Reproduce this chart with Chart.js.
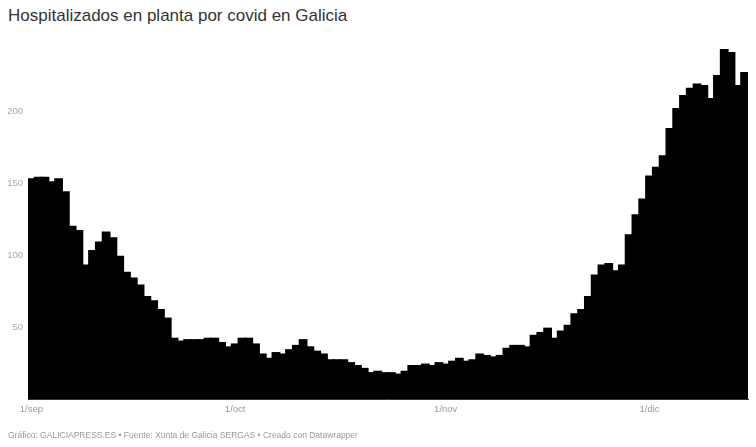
<!DOCTYPE html>
<html>
<head>
<meta charset="utf-8">
<script src="https://cdn.jsdelivr.net/npm/chart.js@4.4.1/dist/chart.umd.min.js"></script>
<style>
  html, body { margin: 0; padding: 0; background: #fff; }
  body { width: 756px; height: 447px; position: relative; overflow: hidden; font-family: "Liberation Sans", Arial, sans-serif; }
  .title { position: absolute; left: 8px; top: 6px; font-size: 17px; line-height: 20px; color: #333; white-space: nowrap; }
  .footer { position: absolute; left: 8px; top: 429px; font-size: 8.5px; line-height: 12px; color: #999; white-space: nowrap; }
  .wrap { position: absolute; left: 0; top: 0; width: 756px; height: 447px; }
</style>
</head>
<body>
<div class="title">Hospitalizados en planta por covid en Galicia</div>
<div class="wrap"><canvas id="chart"></canvas></div>
<div class="footer">Gráfico: GALICIAPRESS.ES • Fuente: Xunta de Galicia SERGAS • Creado con Datawrapper</div>
<script>
// days shown per month, from 1/sep to 15/dic
const months = ['sep', 'oct', 'nov', 'dic'];
const daysShown = [30, 31, 30, 15];
const tickLabels = ['1/sep', '1/oct', '1/nov', '1/dic'];
const yTicks = [50, 100, 150, 200];

// hospitalised patients (ward)
const hospitalizados = [
    153, 154, 154, 151, 153, 144, 120, 117, 93, 103,
    109, 116, 112, 99, 88, 84, 79, 71, 68, 62,
    56, 42, 40, 41, 41, 41, 42, 42, 39, 36,
    38, 42, 42, 38, 31, 28, 32, 31, 34, 37,
    41, 36, 33, 31, 27, 27, 27, 25, 23, 21,
    18, 19, 18, 18, 17, 19, 23, 23, 24, 23,
    25, 24, 26, 28, 26, 27, 31, 30, 29, 30,
    35, 37, 37, 36, 44, 46, 49, 42, 47, 51,
    59, 62, 71, 86, 93, 94, 89, 93, 114, 128,
    139, 155, 161, 169, 188, 202, 211, 216, 219, 218,
    209, 225, 243, 241, 218, 227,
];

const labels = [];
months.forEach((m, i) => {
    for (let d = 1; d <= daysShown[i]; d++) {
        labels.push(`${d}/${m}`);
    }
});

const font = {family: '"Liberation Sans", Arial, sans-serif', size: 9.5};

new Chart(document.getElementById('chart'), {
    type: 'bar',
    data: {
        labels: labels,
        datasets: [{
            label: 'Hospitalizados',
            data: hospitalizados,
            backgroundColor: '#000',
            borderColor: '#000',
            borderWidth: 0,
            inflateAmount: 1,
            barPercentage: 1,
            categoryPercentage: 1,
        }],
    },
    options: {
        responsive: true,
        maintainAspectRatio: false,
        animation: false,
        devicePixelRatio: 1,
        layout: {padding: {left: 0, right: 8, top: 40, bottom: 0}},
        plugins: {legend: {display: false}, tooltip: {enabled: false}},
        scales: {
            x: {
                grid: {display: false, drawTicks: false},
                border: {display: true, color: '#333', width: 1},
                ticks: {
                    autoSkip: false,
                    maxRotation: 0,
                    padding: 5,
                    color: '#999',
                    font: font,
                    callback: (v, i) => (tickLabels.includes(labels[i]) ? labels[i] : ''),
                },
                afterFit: (scale) => { scale.height = 48; },
            },
            y: {
                min: 0,
                max: 250,
                grid: {display: false, drawTicks: false},
                border: {display: false},
                ticks: {
                    stepSize: 50,
                    padding: 5,
                    color: '#aaa',
                    font: font,
                    callback: (v) => (yTicks.includes(v) ? v : ''),
                },
                afterFit: (scale) => { scale.width = 28; },
            },
        },
    },
});
</script>
</body>
</html>
